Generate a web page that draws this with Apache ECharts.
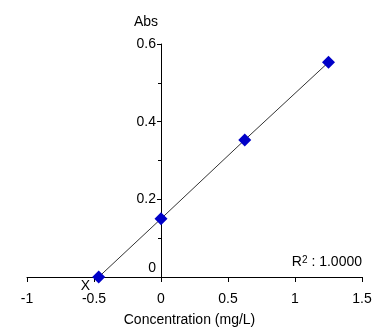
<!DOCTYPE html>
<html><head><meta charset="utf-8">
<script src="https://cdn.jsdelivr.net/npm/echarts@6/dist/echarts.min.js"></script>
<style>html,body{margin:0;padding:0;background:#fff}#c{width:378px;height:333px}</style>
</head><body><div id="c"></div>
<script>
const concentrations = [-0.465, 0, 0.625, 1.25];
const absorbances = [0, 0.15, 0.353, 0.553];
const xTicks = [-1, -0.5, 0, 0.5, 1, 1.5];
const yTicks = [0, 0.2, 0.4, 0.6];
const rSquared = '1.0000';

const pts = concentrations.map((x, i) => [x, absorbances[i]]);
const font = 'Liberation Sans, Arial, sans-serif';
const gridLeft = 27, gridRight = 16;
const plotW = 378 - gridLeft - gridRight;
const xMin = xTicks[0], xMax = xTicks[xTicks.length - 1];
const yAxisOffset = -plotW * (0 - xMin) / (xMax - xMin);
const chart = echarts.init(document.getElementById('c'), null, {renderer: 'canvas'});
chart.setOption({
  animation: false,
  grid: {left: gridLeft, right: gridRight, top: 44, bottom: 56},
  xAxis: {
    type: 'value', min: xMin, max: xMax, interval: 0.5,
    name: 'Concentration (mg/L)', nameLocation: 'middle', nameGap: 36,
    nameTextStyle: {color: '#000', fontSize: 14, fontFamily: font, padding: [0, 10, 0, 0]},
    axisLine: {onZero: true, lineStyle: {color: '#000', width: 1}},
    axisTick: {show: true, length: 5, lineStyle: {color: '#000'}},
    axisLabel: {color: '#000', fontSize: 14, fontFamily: font, margin: 15},
    splitLine: {show: false}
  },
  yAxis: {
    type: 'value', min: yTicks[0], max: yTicks[yTicks.length - 1], interval: 0.2,
    offset: yAxisOffset,
    name: 'Abs', nameLocation: 'end', nameGap: 15,
    nameTextStyle: {color: '#000', fontSize: 14, fontFamily: font, align: 'right', padding: [0, 3, 0, 0]},
    axisLine: {onZero: false, lineStyle: {color: '#000', width: 1}},
    axisTick: {show: true, length: 4, lineStyle: {color: '#000'}},
    minorTick: {show: true, splitNumber: 2, length: 3, lineStyle: {color: '#000'}},
    axisLabel: {
      color: '#000', fontSize: 14, fontFamily: font, margin: 5,
      formatter: v => v === 0 ? '{z|0}' : String(v),
      rich: {z: {color: '#000', fontSize: 14, fontFamily: font, padding: [0, 0, 18, 0]}}
    },
    splitLine: {show: false}
  },
  series: [
    {
      type: 'line', data: pts, symbol: 'diamond', symbolSize: 13,
      lineStyle: {color: '#333', width: 1},
      itemStyle: {color: '#0000c8'},
      label: {
        show: true, position: 'left', offset: [3, 9], color: '#000', fontSize: 14, fontFamily: font,
        formatter: p => p.dataIndex === 0 ? 'X' : ''
      },
      z: 3
    }
  ],
  graphic: [
    {type: 'text', right: 16, top: 255, style: {text: 'R{s|2} : ' + rSquared, fill: '#000', font: '14px ' + font,
      rich: {s: {fontSize: 10, fontFamily: font, verticalAlign: 'top', padding: [0, 0, 5, 0]}}}}
  ]
});
</script></body></html>
